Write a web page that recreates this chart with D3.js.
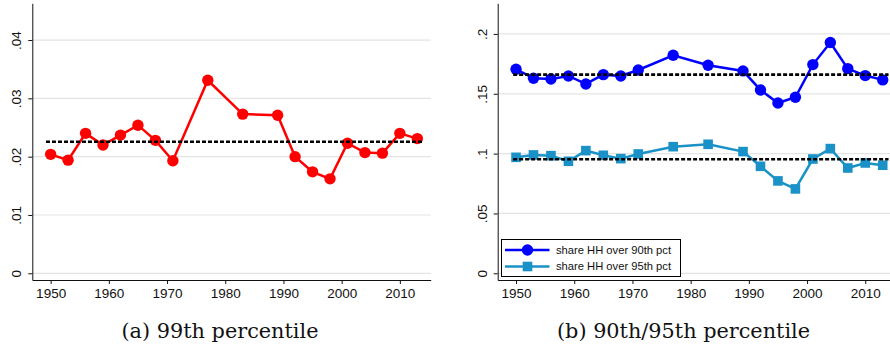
<!DOCTYPE html>
<html lang="en">
<head>
    <meta charset="UTF-8">
    <title>Top income shares</title>
    <style>
        html, body {
            margin: 0;
            padding: 0;
            background-color: #ffffff;
        }
        svg {
            display: block;
            font-family: 'Liberation Sans', Arial, sans-serif;
        }
    </style>
</head>
<body>
    <div id="graph"></div>
    <script src="https://d3js.org/d3.v7.min.js"></script>
    <script>
        // DATA
        const years = [1950, 1953, 1956, 1959, 1962, 1965, 1968, 1971, 1977, 1983, 1989, 1992, 1995, 1998, 2001, 2004, 2007, 2010, 2013];
        const share99 = [0.0204, 0.0194, 0.0240, 0.0220, 0.0237, 0.0254, 0.0228, 0.0193, 0.0331, 0.0273, 0.0271, 0.0200, 0.0174, 0.0162, 0.0223, 0.0207, 0.0206, 0.0240, 0.0231];
        const share90 = [0.1705, 0.1630, 0.1624, 0.1649, 0.1582, 0.1660, 0.1649, 0.1699, 0.1822, 0.1738, 0.1691, 0.1532, 0.1423, 0.1471, 0.1744, 0.1928, 0.1710, 0.1652, 0.1616];
        const share95 = [0.0969, 0.0989, 0.0983, 0.0936, 0.1025, 0.0986, 0.0958, 0.0997, 0.1058, 0.1078, 0.1017, 0.0894, 0.0772, 0.0705, 0.0955, 0.1042, 0.0880, 0.0922, 0.0903];
        const mean99 = 0.02255;
        const mean90 = 0.1660;
        const mean95 = 0.0953;

        const xTicks = [1950, 1960, 1970, 1980, 1990, 2000, 2010];
        const yTicksA = [0, 0.01, 0.02, 0.03, 0.04];
        const yLabelsA = ["0", ".01", ".02", ".03", ".04"];
        const yTicksB = [0, 0.05, 0.1, 0.15, 0.2];
        const yLabelsB = ["0", ".05", ".1", ".15", ".2"];
        const seriesNames = ["share HH over 90th pct", "share HH over 95th pct"];
        const captions = ["(a) 99th percentile", "(b) 90th/95th percentile"];

        const W = 890, H = 354;
        const plotW = 398.4;
        const plotTop = 3.3, plotBottom = 280;
        const lineW = 2.5, dotR = 5.7, sq = 9.6;

        const svg = d3.select("#graph")
            .append("svg")
            .attr("width", W)
            .attr("height", H);

        function panel(left, yDomain, yTicks, yLabels, meanStart) {
            const g = svg.append("g");
            const x = d3.scaleLinear().domain([1946.85, 2015.3]).range([left, left + plotW]);
            const y = d3.scaleLinear().domain(yDomain).range([plotBottom, plotTop]);

            // gridlines
            g.selectAll("line.grid")
                .data(yTicks).enter()
                .append("line")
                .attr("class", "grid")
                .attr("x1", left)
                .attr("x2", left + plotW)
                .attr("y1", d => y(d))
                .attr("y2", d => y(d))
                .style("stroke", "#e4e4e4")
                .style("stroke-width", 1.2);

            // y axis
            const yAxis = g.append("g")
                .attr("transform", `translate(${left},0)`)
                .call(d3.axisLeft(y)
                    .tickValues(yTicks)
                    .tickFormat((d, i) => yLabels[i])
                    .tickSize(4)
                    .tickSizeOuter(0));
            yAxis.selectAll("text")
                .attr("transform", "rotate(-90)")
                .attr("x", 0)
                .attr("y", -11)
                .attr("dy", 0)
                .attr("text-anchor", "middle")
                .style("font-size", "13.5px")
                .style("font-family", "'Liberation Sans', Arial, sans-serif")
                .style("fill", "#111");

            // x axis
            const xAxis = g.append("g")
                .attr("transform", `translate(0,${plotBottom})`)
                .call(d3.axisBottom(x)
                    .tickValues(xTicks)
                    .tickFormat(d3.format("d"))
                    .tickSize(4)
                    .tickSizeOuter(0));
            xAxis.selectAll("text")
                .attr("y", 0)
                .attr("dy", 17.5)
                .style("font-size", "13.5px")
                .style("font-family", "'Liberation Sans', Arial, sans-serif")
                .style("fill", "#111");

            g.selectAll(".domain, .tick line").style("stroke", "#111");
            return {g, x, y, meanStart};
        }

        function series(p, values, colour, shape) {
            const line = d3.line()
                .x((d, i) => p.x(years[i]))
                .y(d => p.y(d));
            p.g.append("path")
                .datum(values)
                .attr("d", line)
                .style("fill", "none")
                .style("stroke", colour)
                .style("stroke-width", lineW);
            if (shape === "circle") {
                p.g.selectAll(null)
                    .data(values).enter()
                    .append("circle")
                    .attr("cx", (d, i) => p.x(years[i]))
                    .attr("cy", d => p.y(d))
                    .attr("r", dotR)
                    .style("fill", colour);
            } else {
                p.g.selectAll(null)
                    .data(values).enter()
                    .append("rect")
                    .attr("x", (d, i) => p.x(years[i]) - sq / 2)
                    .attr("y", d => p.y(d) - sq / 2)
                    .attr("width", sq)
                    .attr("height", sq)
                    .style("fill", colour);
            }
        }

        function meanLine(p, value) {
            p.g.append("line")
                .attr("x1", p.x(p.meanStart))
                .attr("x2", p.x(2014))
                .attr("y1", p.y(value))
                .attr("y2", p.y(value))
                .style("stroke", "#000")
                .style("stroke-width", 2.6)
                .style("stroke-dasharray", "4,2");
        }

        // PANEL A
        const pa = panel(32.3, [-0.00115, 0.0463], yTicksA, yLabelsA, 1949.2);
        series(pa, share99, "#ff0000", "circle");
        meanLine(pa, mean99);

        // PANEL B
        const pb = panel(497.7, [-0.0056, 0.2256], yTicksB, yLabelsB, 1949.5);
        series(pb, share90, "#0000ff", "circle");
        series(pb, share95, "#1a92c8", "square");
        meanLine(pb, mean90);
        meanLine(pb, mean95);

        // LEGEND
        const legend = svg.append("g").attr("transform", "translate(501.5,239.5)");
        legend.append("rect")
            .attr("width", 179)
            .attr("height", 37)
            .style("fill", "#fff")
            .style("stroke", "#000")
            .style("stroke-width", 1);
        const legendColours = ["#0000ff", "#1a92c8"];
        seriesNames.forEach((name, i) => {
            const row = legend.append("g").attr("transform", `translate(0,${10.5 + i * 16.5})`);
            row.append("line")
                .attr("x1", 3.5).attr("x2", 48)
                .style("stroke", legendColours[i])
                .style("stroke-width", lineW);
            if (i === 0) {
                row.append("circle").attr("cx", 26).attr("r", dotR).style("fill", legendColours[i]);
            } else {
                row.append("rect").attr("x", 26 - sq / 2).attr("y", -sq / 2).attr("width", sq).attr("height", sq).style("fill", legendColours[i]);
            }
            row.append("text")
                .attr("x", 54.5)
                .attr("dy", "0.35em")
                .text(name)
                .style("font-size", "11.2px")
                .style("fill", "#111");
        });

        // CAPTIONS
        const capX = [220, 683.5];
        const capW = [197, 253];
        captions.forEach((c, i) => {
            svg.append("text")
                .attr("x", capX[i])
                .attr("y", 338)
                .attr("text-anchor", "middle")
                .attr("textLength", capW[i])
                .attr("lengthAdjust", "spacingAndGlyphs")
                .text(c)
                .style("font-family", "'DejaVu Serif', serif")
                .style("font-size", "19.5px")
                .style("fill", "#111");
        });
    </script>
</body>
</html>
